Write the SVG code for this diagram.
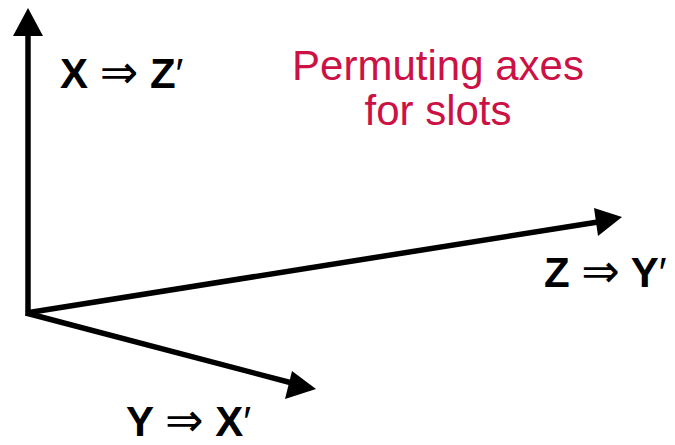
<svg xmlns="http://www.w3.org/2000/svg" width="675" height="445" viewBox="0 0 675 445">
<style>
.ax{stroke:#000;stroke-width:5.5;fill:none;stroke-linecap:butt}
.hd{fill:#000}
.lb{font-family:"Liberation Sans",Arial,sans-serif;font-size:42px;font-weight:bold;fill:#000}
.ar{font-family:"DejaVu Sans",sans-serif;font-weight:normal;font-size:46px}
.pr{font-weight:normal}
.tt{font-family:"Liberation Sans",Arial,sans-serif;font-size:42px;fill:#CC1144;text-anchor:middle}
</style>
<rect width="675" height="445" fill="#fff"/>
<g id="axes">
<line class="ax" x1="28" y1="316" x2="28" y2="32"/>
<polygon class="hd" points="28,8 13,36 43,36"/>
<line class="ax" x1="26" y1="313" x2="598" y2="222"/>
<polygon class="hd" points="622,217 594,208 598,236"/>
<line class="ax" x1="26" y1="313" x2="292" y2="383"/>
<polygon class="hd" points="316,389 292,371 285,399"/>
</g>
<g id="label-x"><text class="lb" x="60" y="88">X <tspan class="ar">⇒</tspan> Z<tspan class="pr">′</tspan></text></g>
<g id="label-z"><text class="lb" x="544" y="287">Z <tspan class="ar">⇒</tspan> Y<tspan class="pr">′</tspan></text></g>
<g id="label-y"><text class="lb" x="126" y="436">Y <tspan class="ar">⇒</tspan> X<tspan class="pr">′</tspan></text></g>
<g id="title">
<text class="tt" x="438" y="80">Permuting axes</text>
<text class="tt" x="438" y="125">for slots</text>
</g>
</svg>
